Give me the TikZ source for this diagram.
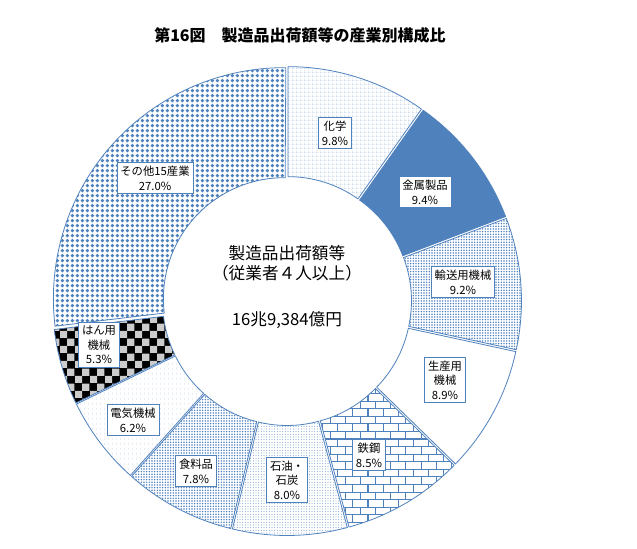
\documentclass[tikz,border=0pt]{standalone}
\usepackage{fontspec}
\newfontfamily\jp{Noto Sans CJK JP}
\usetikzlibrary{patterns,patterns.meta}
\definecolor{xlblue}{HTML}{4F81BD}
\tikzdeclarepattern{name=diam,type=uncolored,bottom left={(-2pt,-2pt)},top right={(2pt,2pt)},tile size={(4pt,4pt)},
  code={\fill (0pt,-1.5pt) -- (1.5pt,0pt) -- (0pt,1.5pt) -- (-1.5pt,0pt) -- cycle;}}
\tikzdeclarepattern{name=densedots,type=uncolored,bottom left={(-1pt,-1pt)},top right={(1pt,1pt)},tile size={(2pt,2pt)},
  code={\fill (0pt,0pt) circle (0.62pt);}}
\tikzdeclarepattern{name=finedots,type=uncolored,bottom left={(-1pt,-1pt)},top right={(1pt,1pt)},tile size={(2pt,2pt)},
  code={\fill (0pt,0pt) circle (0.35pt);}}
\tikzdeclarepattern{name=finegrid,type=uncolored,bottom left={(0pt,0pt)},top right={(3pt,3pt)},tile size={(3pt,3pt)},
  code={\draw[line width=0.4pt] (0pt,0pt) -- (3pt,0pt) (0pt,0pt) -- (0pt,3pt);}}
\tikzdeclarepattern{name=vdash,type=uncolored,bottom left={(0pt,0pt)},top right={(3pt,4pt)},tile size={(3pt,4pt)},
  code={\draw[line width=0.4pt] (0pt,0pt) -- (0pt,2pt);}}
\tikzset{
  seg/.style={draw=xlblue,line width=0.6pt},
  pgrid/.style={pattern=finegrid,pattern color=xlblue},
  psolid/.style={fill=xlblue},
  pcross/.style={pattern=densedots,pattern color=xlblue},
  pwhite/.style={fill=white},
  pbricks/.style={pattern=bricks,pattern color=xlblue},
  pdots/.style={pattern=finedots,pattern color=xlblue},
  pvert/.style={pattern=vdash,pattern color=xlblue},
  pcheck/.style={pattern=checkerboard light gray,pattern color=xlblue},
  pdiam/.style={pattern=diam,pattern color=xlblue},
  lbl/.style={draw=xlblue,fill=white,font=\jp\fontsize{8.5}{11}\selectfont,align=center,inner sep=2.5pt,line width=0.6pt}
}
\begin{document}
\begin{tikzpicture}[x=0.75pt,y=0.75pt]
\useasboundingbox (0,0) rectangle (637,549);
\coordinate (c) at (287,248);
\foreach \a/\b/\sty in {90/54.72/pgrid, 54.72/20.88/psolid, 20.88/-12.24/pcross,
  -12.24/-44.28/pwhite, -44.28/-74.88/pbricks, -74.88/-103.68/pdots,
  -103.68/-131.76/pcross, -131.76/-154.08/pvert, -154.08/-173.16/pcheck,
  -173.16/-270.36/pdiam}{
  \pgfmathsetmacro\m{(\a+\b)/2}
  \draw[seg,\sty,shift={(c)},shift={(\m:3.5)}] (\a:231) arc[start angle=\a,end angle=\b,radius=231] -- (\b:121) arc[start angle=\b,end angle=\a,radius=121] -- cycle;
}
\node[font=\jp\bfseries\fontsize{12}{14}\selectfont] (title) at (300,514) {第16図\quad 製造品出荷額等の産業別構成比};
\node[font=\jp\fontsize{12.5}{15}\selectfont,align=center] (total) at (287,286) {製造品出荷額等\\（従業者４人以上）};
\node[font=\jp\fontsize{12.5}{15}\selectfont] (amount) at (287,229) {16兆9,384億円};
\node[lbl] (kagaku) at (335,416) {化学\\9.8\%};
\node[lbl] (kinzoku) at (425,357) {金属製品\\9.4\%};
\node[lbl] (yuso) at (463,267) {輸送用機械\\9.2\%};
\node[lbl] (seisan) at (445,169) {生産用\\機械\\8.9\%};
\node[lbl] (tekko) at (369,94) {鉄鋼\\8.5\%};
\node[lbl] (sekiyu) at (287,69) {石油・\\石炭\\8.0\%};
\node[lbl] (shokuryo) at (196,78) {食料品\\7.8\%};
\node[lbl] (denki) at (133,129) {電気機械\\6.2\%};
\node[lbl] (hanyo) at (99,204) {はん用\\機械\\5.3\%};
\node[lbl] (sonota) at (155,371) {その他15産業\\27.0\%};
\end{tikzpicture}
\end{document}
